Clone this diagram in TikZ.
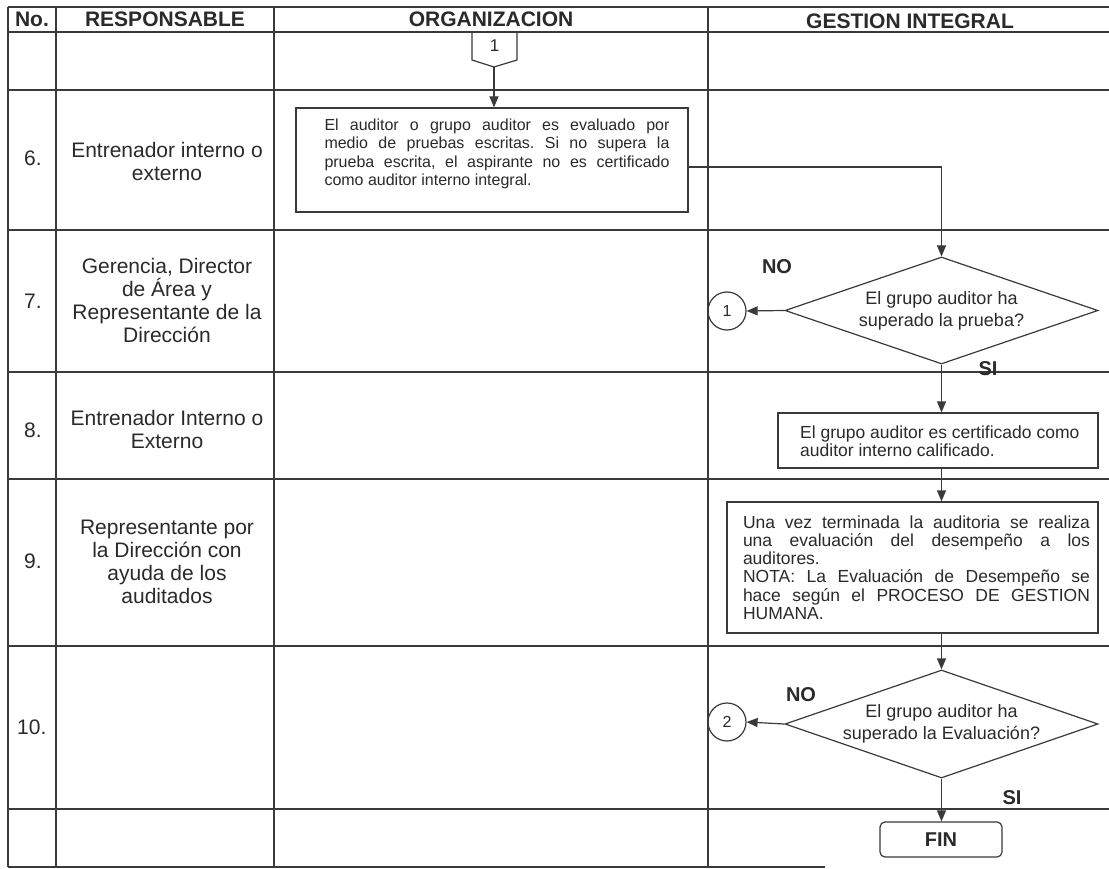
\documentclass[tikz,border=0pt]{standalone}
\usepackage{fontspec}
\setmainfont{Liberation Sans}
\usetikzlibrary{arrows.meta,shapes.geometric}
\definecolor{linec}{HTML}{3A3A3A}
\definecolor{ink}{HTML}{2A2A2A}
\begin{document}
\begin{tikzpicture}[x=1pt,y=-1pt,
  every node/.style={text=ink},
  gridline/.style={draw=linec, line width=1.2pt},
  shapeline/.style={draw=linec, line width=1.2pt},
  arr/.style={draw=linec, line width=1.2pt, -{Triangle[length=11pt,width=9pt]}},
  headtxt/.style={font=\fontsize{21}{24}\selectfont\bfseries, inner sep=0pt},
  numtxt/.style={font=\fontsize{21}{24}\selectfont, inner sep=0pt, anchor=west},
  resptxt/.style={font=\fontsize{21}{23}\selectfont, align=center, inner sep=0pt},
  procbox/.style={shapeline, rectangle, inner sep=0pt},
  decision/.style={shapeline, diamond, shape aspect=3, inner sep=0pt,
    align=center, font=\fontsize{18}{21.7}\selectfont},
  connector/.style={shapeline, circle, minimum size=38pt, inner sep=0pt,
    font=\fontsize{16}{18}\selectfont},
  answer/.style={font=\fontsize{20}{24}\selectfont\bfseries, inner sep=0pt}]
\useasboundingbox (0,0) rectangle (1109,869);
\fill[white] (0,0) rectangle (1109,869);

% table rules
\foreach \yy in {7,32,90,230,372,479,646,809}
  \draw[gridline] (8,\yy) -- (1109,\yy);
\draw[gridline] (8,867) -- (825,867);
\foreach \xx in {8,56,274,708}
  \draw[gridline] (\xx,7) -- (\xx,867);

% header
\node[headtxt] (hno)   at (32,19.5)  {No.};
\node[headtxt] (hresp) at (165,19.5) {RESPONSABLE};
\node[headtxt] (horg)  at (491,19.5) {ORGANIZACION};
\node[headtxt] (hgi)   at (910,21)   {GESTION INTEGRAL};

% row numbers
\node[numtxt] (n6)  at (24,158) {6.};
\node[numtxt] (n7)  at (24,301) {7.};
\node[numtxt] (n8)  at (24,430) {8.};
\node[numtxt] (n9)  at (24,561) {9.};
\node[numtxt] (n10) at (17,727) {10.};

% responsible parties
\node[resptxt] (r6) at (167,161) {Entrenador interno o\\externo};
\node[resptxt] (r7) at (167,300) {Gerencia, Director\\de Área y\\Representante de la\\Dirección};
\node[resptxt] (r8) at (167,429) {Entrenador Interno o\\Externo};
\node[resptxt] (r9) at (167,562) {Representante por\\la Dirección con\\ayuda de los\\auditados};

% off-page connector 1
\draw[shapeline] (472,32) -- (472,60) -- (494,67) -- (517,60) -- (517,32) -- cycle;
\coordinate (c1tip) at (494,67);
\node[font=\fontsize{17}{20}\selectfont, inner sep=0pt] (c1) at (494.5,46) {1};

% step 6
\node[procbox, minimum width=392pt, minimum height=104pt] (b6) at (492,160) {};
\node[text width=345pt, align=justify, inner sep=0pt,
      font=\fontsize{16}{18.3}\selectfont] (t6) at (497,154)
  {\hyphenpenalty=10000\relax\frenchspacing
   El auditor o grupo auditor es evaluado por\linebreak
   medio de pruebas escritas. Si no supera la\linebreak
   prueba escrita, el aspirante no es certificado\linebreak
   como auditor interno integral.};

% step 7
\node[decision, minimum width=313pt, minimum height=107pt] (d7) at (941.5,310.5)
  {El grupo auditor ha\\superado la prueba?};
\node[connector] (k1) at (727,311) {1};
\node[answer] (no7) at (777,267) {NO};
\node[answer] (si7) at (988,369) {SI};

% step 8
\node[procbox, minimum width=320pt, minimum height=55pt] (b8) at (938,440.5) {};
\node[align=left, inner sep=0pt, anchor=west,
      font=\fontsize{17.5}{18.3}\selectfont] (t8) at (800,441)
  {El grupo auditor es certificado como\\auditor interno calificado.};

% step 9
\node[procbox, minimum width=371pt, minimum height=131pt] (b9) at (912.5,567.5) {};
\node[text width=347pt, align=justify, inner sep=0pt,
      font=\fontsize{17.5}{18.3}\selectfont] (t9) at (916.5,567.5)
  {\hyphenpenalty=10000\relax\frenchspacing
   Una vez terminada la auditoria se realiza\linebreak
   una evaluación del desempeño a los\linebreak
   auditores.\par
   NOTA: La Evaluación de Desempeño se\linebreak
   hace según el PROCESO DE GESTION\linebreak
   HUMANA.};

% step 10
\node[decision, minimum width=313pt, minimum height=108pt] (d10) at (941.5,724)
  {El grupo auditor ha\\superado la Evaluación?};
\node[connector] (k2) at (727,722) {2};
\node[answer] (no10) at (801,695) {NO};
\node[answer] (si10) at (1012,798) {SI};

% end
\node[shapeline, rectangle, rounded corners=5pt, minimum width=122pt,
      minimum height=35pt, inner sep=0pt,
      font=\fontsize{20}{24}\selectfont\bfseries] (fin) at (941,839.5) {FIN};

% flow
\draw[arr] (c1tip) -- (c1tip |- b6.north);
\draw[arr] ([yshift=-7pt]b6.east) -| (d7.north);
\draw[arr] (d7.west) -- (k1.east);
\draw[arr] (d7.south) -- (d7.south |- b8.north);
\draw[arr] (d7.south |- b8.south) -- (d7.south |- b9.north);
\draw[arr] (d7.south |- b9.south) -- (d10.north);
\draw[arr] (d10.west) -- (k2.east);
\draw[arr] (d10.south) -- (d10.south |- fin.north);
\end{tikzpicture}
\end{document}
